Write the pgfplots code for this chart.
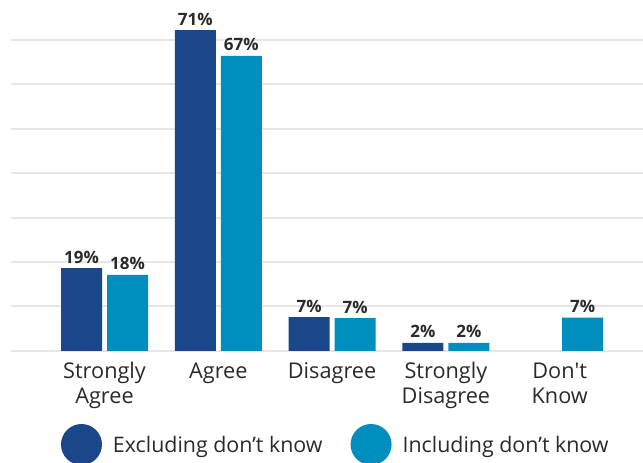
\documentclass[border=0pt]{standalone}
\usepackage{fontspec}
\setmainfont{Open Sans}
\usepackage{pgfplots}
\usepackage{pgfplotstable}
\pgfplotsset{compat=1.18}
\definecolor{dkblue}{HTML}{1A4789}
\definecolor{ltblue}{HTML}{008EBF}
\definecolor{gridc}{HTML}{E6E6E6}
\definecolor{txt}{HTML}{2A2A2A}
\pgfplotstableread{
x y label
0 18.65 19
1 72.1 71
2 7.6 7
3 1.8 2
}\darkdata
\pgfplotstableread{
x y label
0 17.1 18
1 66.3 67
2 7.4 7
3 1.8 2
4 7.5 7
}\lightdata
\begin{document}
\begin{tikzpicture}[x=1pt,y=1pt]
\useasboundingbox (0,0) rectangle (643,463);
\begin{axis}[
  at={(11pt,112pt)}, anchor=south west,
  scale only axis, width=632pt, height=311.5pt,
  xmin=-0.822, xmax=4.732, ymin=0, ymax=70,
  ybar=5pt, bar width=41pt,
  axis line style={draw=none},
  major tick length=0pt,
  ytick={0,10,...,70}, yticklabels={},
  ymajorgrids, grid style={gridc, line width=2pt},
  xtick={0,1,2,3,4},
  xticklabels={Strongly\\Agree, Agree, Disagree, Strongly\\Disagree, Don\textquotesingle t\\Know},
  typeset ticklabels with strut,
  xticklabel style={align=center, font=\fontsize{21.7}{25}\selectfont, text=txt, inner sep=0pt, anchor=north, yshift=-9.5pt},
  clip=false,
  nodes near coords={\pgfplotspointmeta\%},
  point meta=explicit symbolic,
  every node near coord/.append style={font=\bfseries\fontsize{17}{17}\selectfont, text=txt, anchor=base, inner sep=0pt, yshift=5pt},
  legend columns=2,
  legend style={at={(axis description cs:0.0791,-0.3002)}, anchor=west, draw=none, fill=none, inner sep=0pt, outer sep=0pt,
    font=\fontsize{21.4}{21.4}\selectfont, text=txt, nodes={inner sep=0pt},
    /tikz/column sep=11pt,
    /tikz/every even column/.append style={column sep=28pt}},
]
\addplot[fill=dkblue, draw=none, legend image code/.code={\fill[dkblue] (20.5pt,0.5pt) circle[radius=20.5pt];}] table[x=x, y=y, meta=label]{\darkdata};
\addplot[fill=ltblue, draw=none, legend image code/.code={\fill[ltblue] (20.5pt,0.5pt) circle[radius=20.5pt];}] table[x=x, y=y, meta=label]{\lightdata};
\legend{Excluding don’t know, Including don’t know}
\end{axis}
\end{tikzpicture}
\end{document}
